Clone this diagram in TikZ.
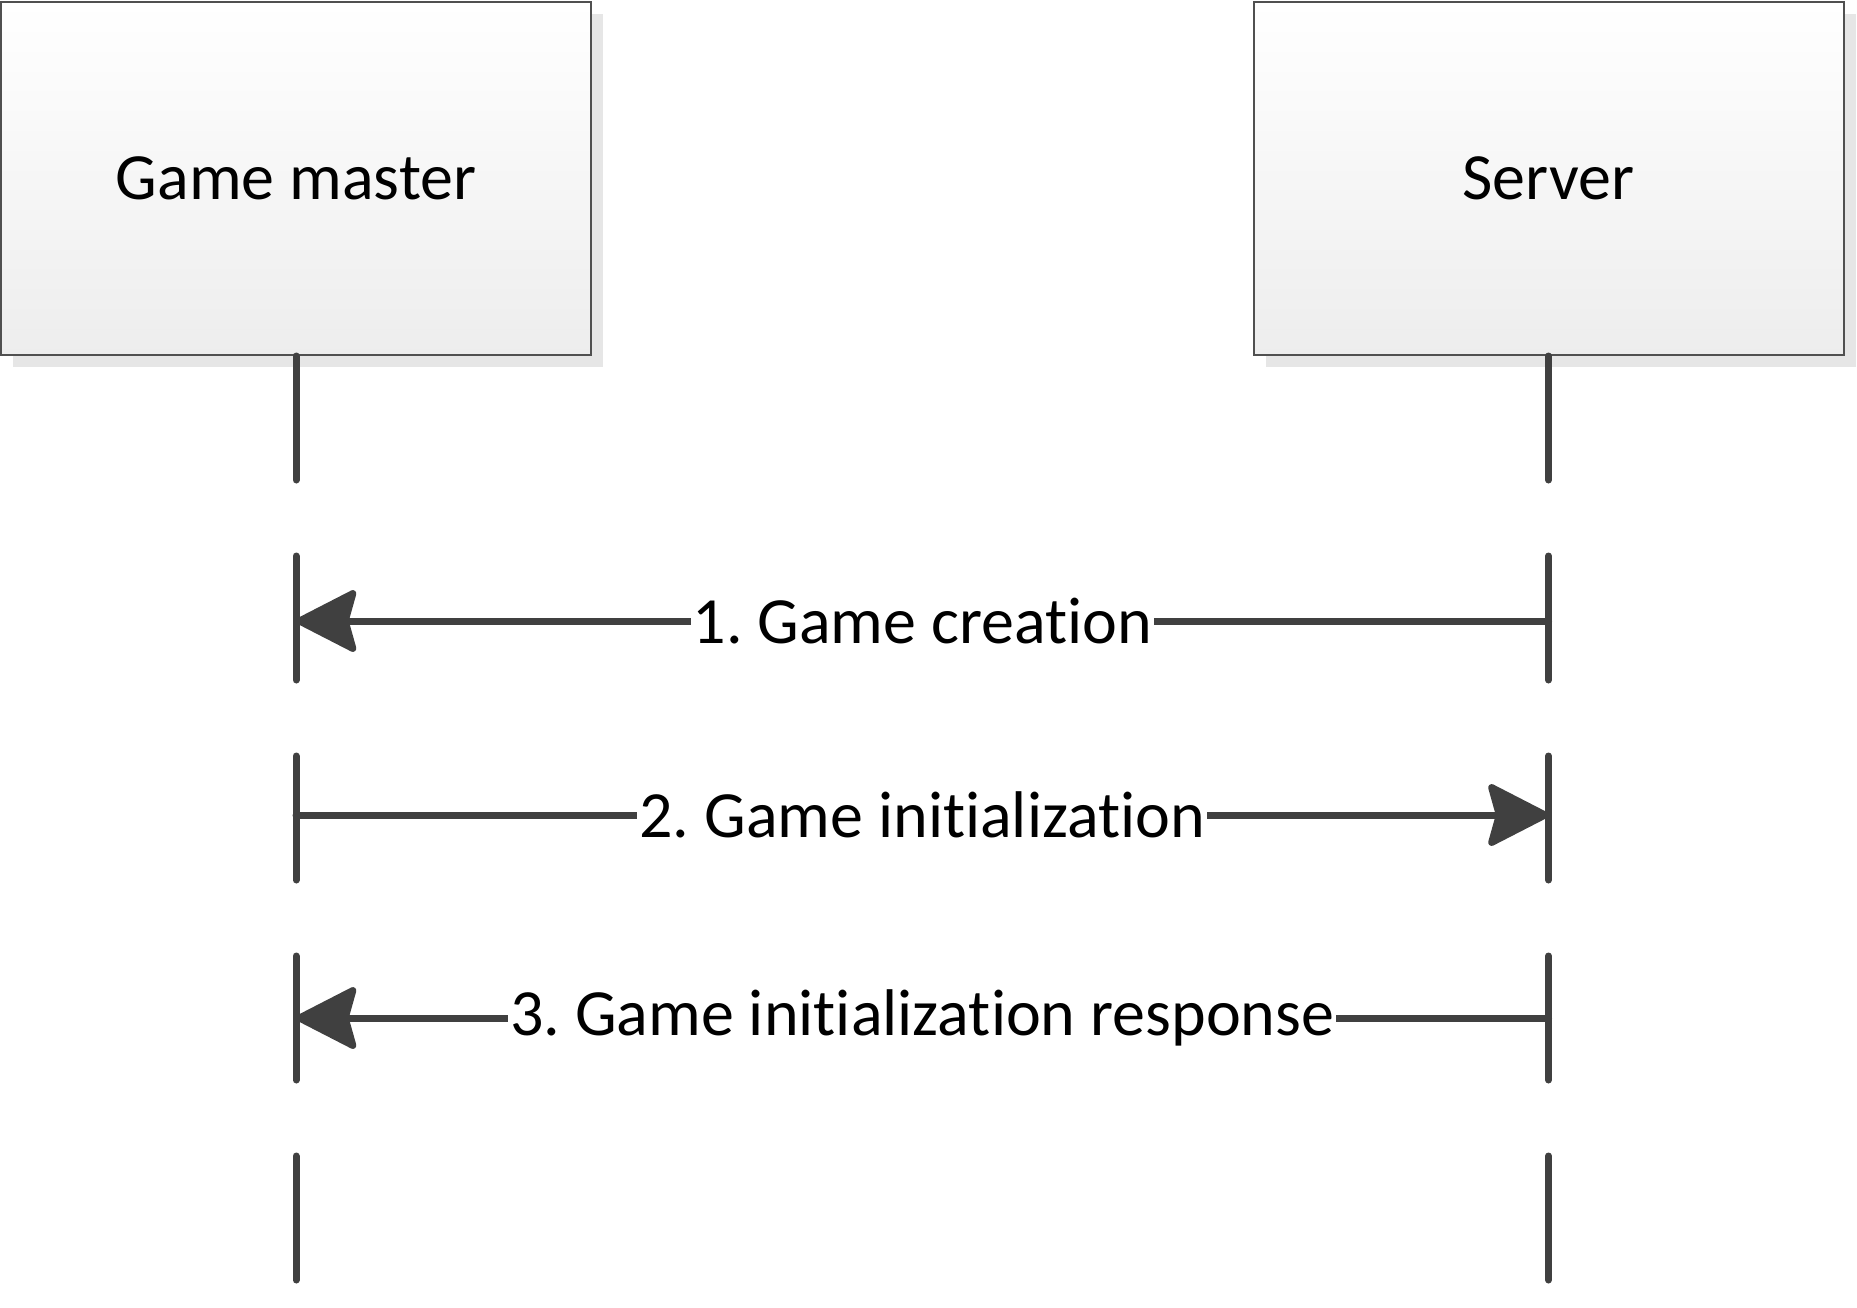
\documentclass[tikz,border=0pt]{standalone}
\usepackage{fontspec}
\setmainfont{Carlito}[Ligatures={NoCommon,NoRequired,NoContextual}]
\usetikzlibrary{arrows.meta,shadows}
\definecolor{ln}{HTML}{404040}
\definecolor{bd}{HTML}{505050}
\definecolor{sh}{HTML}{E6E6E6}
\frenchspacing
\begin{document}
\begin{tikzpicture}[x=0.5pt,y=-0.5pt,
  actor/.style={draw=bd,line width=1pt,top color=white,bottom color=black!7,
    minimum width=295pt,minimum height=176.5pt,inner sep=0pt,
    font=\fontsize{33}{40}\selectfont,
    drop shadow={shadow xshift=6pt,shadow yshift=-6pt,fill=sh,opacity=1}},
  life/.style={draw=ln,line width=3.5pt,line cap=round,dash pattern=on 62pt off 38pt},
  msg/.style={draw=ln,line width=3.5pt,line cap=round,
    -{Stealth[length=33pt,width=33.5pt,inset=4.5pt,round=false]}},
  lbl/.style={fill=white,inner xsep=1pt,inner ysep=0pt,font=\fontsize{33}{40}\selectfont,text=black}]
\useasboundingbox (0,0) rectangle (1857,1307);
\node[actor] (gm) at (296,178.5) {Game master};
\node[actor] (srv) at (1548.5,178.5) {Server};
\coordinate (gmend) at (296,1283);
\coordinate (srvend) at (1548.5,1283);
\draw[life] (gm.south) -- (gmend);
\draw[life] (srv.south) -- (srvend);
\coordinate (g1) at (296,621);
\coordinate (s1) at (1548.5,621);
\coordinate (g2) at (296,815);
\coordinate (s2) at (1548.5,815);
\coordinate (g3) at (296,1018);
\coordinate (s3) at (1548.5,1018);
\draw[msg] (s1) -- node[lbl] {1. Game creation} (g1);
\draw[msg] (g2) -- node[lbl] {2. Game initialization} (s2);
\draw[msg] (s3) -- node[lbl] {3. Game initialization response} (g3);
\end{tikzpicture}
\end{document}
